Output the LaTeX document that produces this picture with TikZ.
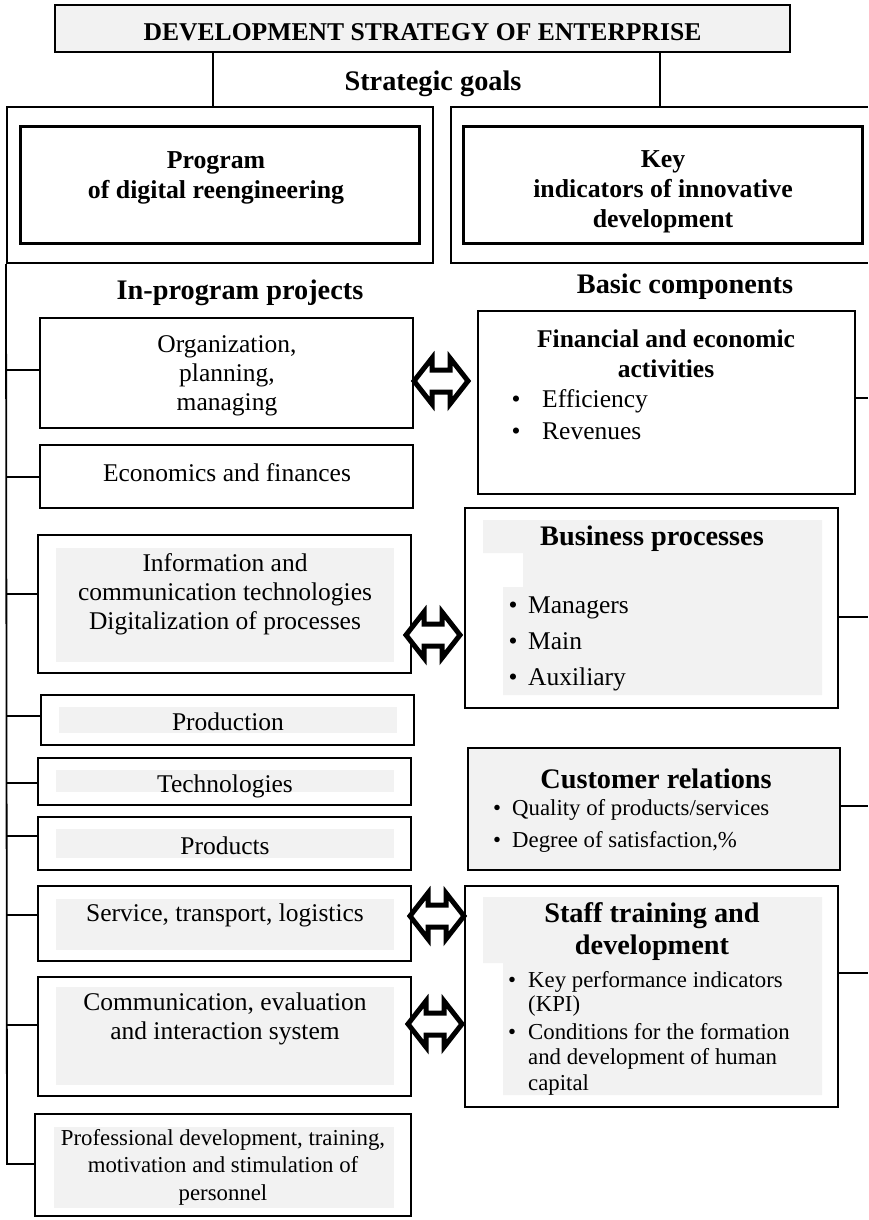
\documentclass[tikz,border=0pt]{standalone}
\usepackage{fontspec}
\setmainfont{Liberation Serif}
\definecolor{bgg}{RGB}{242,242,242}
\tikzset{
  box/.style={draw, line width=2.4pt, inner sep=0pt, minimum width=#1},
  obox/.style={draw, line width=2pt, inner sep=0pt},
  conn/.style={line width=1.8pt},
  bigarrow/.style={draw, fill=white, line width=5pt, miter limit=10},
  t/.style={inner sep=0pt, font=\fontsize{25.5}{29}\selectfont, align=center},
  tb/.style={inner sep=0pt, font=\fontsize{25.8}{30}\selectfont\bfseries, align=center},
  th/.style={inner sep=0pt, font=\fontsize{28.3}{32}\selectfont\bfseries, align=center},
  ts/.style={inner sep=0pt, font=\fontsize{22.8}{27.5}\selectfont, align=center},
  tl/.style={inner sep=0pt, font=\fontsize{25.5}{29}\selectfont, anchor=base west},
  tsl/.style={inner sep=0pt, font=\fontsize{22.8}{27.5}\selectfont, anchor=base west},
  bul/.style={inner sep=0pt, font=\fontsize{25.5}{29}\selectfont, anchor=base},
  buls/.style={inner sep=0pt, font=\fontsize{22.8}{27.5}\selectfont, anchor=base}
}
\begin{document}
\begin{tikzpicture}[x=1pt, y=-1pt]
\useasboundingbox (0,0) rectangle (868,1220);

% header
\node[obox, fill=bgg, minimum width=735, minimum height=47] (hdr) at (422.5,28.5) {};
\node[tb, font=\fontsize{25.6}{30}\selectfont\bfseries] (hdrt) at (422.5,32) {DEVELOPMENT STRATEGY OF ENTERPRISE};
\node[th] (sg) at (433,84) {Strategic goals};

% strategic goal boxes
\node[obox, minimum width=426, minimum height=156] (lout) at (220,185) {};
\node[box=399, line width=3pt, minimum height=116] (lin) at (219.5,185) {};
\node[tb] (lint) at (216,178) {Program\\of digital reengineering};
\draw[obox] (868,107) -- (451,107) -- (451,263) -- (868,263);
\coordinate (routtop) at (660,107);
\node[box=399, line width=3pt, minimum height=116] (rin) at (662.5,185) {};
\node[tb] (rint) at (663,192) {Key\\indicators of innovative\\development};

\coordinate (hx1) at (213,0);
\coordinate (hx2) at (660,0);
\draw[conn, line width=1.5pt] (hx1 |- hdr.south) -- (hx1 |- lout.north);
\draw[conn, line width=1.5pt] (hx2 |- hdr.south) -- (routtop);

\node[th] (ipp) at (240,293) {In-program projects};
\node[th] (bc) at (685,287) {Basic components};

% left project boxes
\node[box=373, minimum height=110] (org) at (226.5,373) {};
\node[t] (orgt) at (227,376) {Organization,\\planning,\\managing};

\node[box=373, minimum height=63] (eco) at (226.5,476.5) {};
\node[t] (ecot) at (227,473) {Economics and finances};

\node[box=373, minimum height=138] (ict) at (224.5,604) {};
\fill[bgg] (56,548) rectangle (394,662);
\node[t] (ictt) at (225,594) {Information and\\communication technologies\\Digitalization of processes};

\node[box=373, minimum height=50] (prod) at (227.5,720) {};
\fill[bgg] (59,707) rectangle (397,733);
\node[t] (prodt) at (228,722) {Production};

\node[box=373, minimum height=47] (tech) at (224.5,781.5) {};
\fill[bgg] (56,770) rectangle (394,792);
\node[t] (techt) at (225,786) {Technologies};

\node[box=373, minimum height=53] (prods) at (224.5,843.5) {};
\fill[bgg] (56,829) rectangle (394,858);
\node[t] (prodst) at (225,846) {Products};

\node[box=373, minimum height=75] (serv) at (224.5,923.5) {};
\fill[bgg] (56,899) rectangle (394,950);
\node[t] (servt) at (225,915) {Service, transport, logistics};

\node[box=373, minimum height=119] (comm) at (224.5,1036.5) {};
\fill[bgg] (56,987) rectangle (394,1085);
\node[t] (commt) at (225,1019) {Communication, evaluation\\and interaction system};

\node[box=376, minimum height=102] (prof) at (223,1165) {};
\fill[bgg] (54,1127) rectangle (394,1208);
\node[ts] (proft) at (223,1167) {Professional development, training,\\motivation and stimulation of\\personnel};

% spine and left connectors
\coordinate (s1) at (7,370);
\coordinate (s2) at (7,477);
\coordinate (s3) at (7,594);
\coordinate (s4) at (7,716);
\coordinate (s5) at (7,783);
\coordinate (s6) at (7,836);
\coordinate (s7) at (7,915);
\coordinate (s8) at (7,1025);
\coordinate (s9) at (7,1164);
\draw[conn] (lout.south west) -- (s9) -- (s9 -| prof.west);
\foreach \s/\b in {s1/org, s2/eco, s3/ict, s4/prod, s5/tech, s6/prods, s7/serv, s8/comm}
  \draw[conn] (\s) -- (\s -| \b.west);

% right component boxes
\node[box=377, minimum height=183] (fin) at (666.5,402.5) {};
\node[tb, font=\fontsize{25.5}{29.5}\selectfont\bfseries] (fint) at (666,354) {Financial and economic\\activities};
\node[bul] (finb1) at (516,407) {\textbullet};
\node[tl] (fin1) at (542,407) {Efficiency};
\node[bul] (finb2) at (516,439) {\textbullet};
\node[tl] (fin2) at (542,439) {Revenues};

\node[box=373, minimum height=200] (bus) at (651.5,608) {};
\fill[bgg] (483,520) -- (822,520) -- (822,695) -- (503,695) -- (503,587) -- (523,587) -- (523,553) -- (483,553) -- cycle;
\node[th] (bust) at (652,539) {Business processes};
\node[bul] (busb1) at (513,613) {\textbullet};
\node[tl] (bus1) at (528,613) {Managers};
\node[bul] (busb2) at (513,649) {\textbullet};
\node[tl] (bus2) at (528,649) {Main};
\node[bul] (busb3) at (513,685) {\textbullet};
\node[tl] (bus3) at (528,685) {Auxiliary};

\node[box=372, fill=bgg, minimum height=122] (cust) at (654,809) {};
\node[th] (custt) at (656,779) {Customer relations};
\node[buls] (custb1) at (497,815) {\textbullet};
\node[tsl] (cust1) at (512,815) {Quality of products/services};
\node[buls] (custb2) at (497,847) {\textbullet};
\node[tsl] (cust2) at (512,847) {Degree of satisfaction,\%};

\node[box=373, minimum height=221] (staff) at (651.5,996.5) {};
\fill[bgg] (483,897) -- (822,897) -- (822,1095) -- (503,1095) -- (503,963) -- (483,963) -- cycle;
\node[th] (stafft) at (652,932) {Staff training and\\development};
\node[buls] (staffb1) at (512,987) {\textbullet};
\node[tsl] (staff1) at (528,987) {Key performance indicators};
\node[tsl] (staff1b) at (528,1011) {(KPI)};
\node[buls] (staffb2) at (512,1039) {\textbullet};
\node[tsl] (staff2) at (528,1039) {Conditions for the formation};
\node[tsl] (staff2b) at (528,1064) {and development of human};
\node[tsl] (staff2c) at (528,1090) {capital};

% right connectors
\coordinate (r1) at (868,398);
\coordinate (r2) at (868,617);
\coordinate (r3) at (868,806);
\coordinate (r4) at (868,973);
\draw[conn] (r1 -| fin.east) -- (r1);
\draw[conn] (r2 -| bus.east) -- (r2);
\draw[conn] (r3 -| cust.east) -- (r3);
\draw[conn] (r4 -| staff.east) -- (r4);

% double block arrows
\coordinate (a1) at (441,381);
\coordinate (a2) at (433,635);
\coordinate (a3) at (437,916);
\coordinate (a4) at (435,1024);
\foreach \a in {a1,a2,a3,a4}
  \draw[bigarrow, shift={(\a)}] (-27,0) -- (-9,-23) -- (-9,-11) -- (9,-11) -- (9,-23) -- (27,0) -- (9,23) -- (9,11) -- (-9,11) -- (-9,23) -- cycle;
\end{tikzpicture}
\end{document}
